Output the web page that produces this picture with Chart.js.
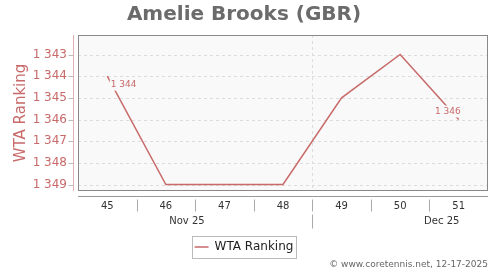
<!DOCTYPE html>
<html>
<head>
<meta charset="utf-8">
<script src="https://cdn.jsdelivr.net/npm/chart.js@4"></script>
<style>
html, body { margin: 0; padding: 0; background: #fff; }
#wrap { width: 500px; height: 270px; }
</style>
</head>
<body>
<div id="wrap"><canvas id="rankChart" width="500" height="270"></canvas></div>
<script>
var weeks = ['45', '46', '47', '48', '49', '50', '51'];
var ranking = [1344, 1349, 1349, 1349, 1345, 1343, 1346];
var rankTicks = [1343, 1344, 1345, 1346, 1347, 1348, 1349];
var months = ['Nov 25', 'Dec 25'];
var monthPos = [1.36, 5.71];
var monthBreak = 3.5;

var red = '#c86a6a';
var plotBg = '#f9f9f9';

function fmt(n) {
	return String(n).replace(/\B(?=(\d{3})+(?!\d))/g, ' ');
}

Chart.defaults.font.family = 'DejaVu Sans';

var framePlugin = {
	id: 'frame',
	beforeDraw: function (chart) {
		var a = chart.chartArea, ctx = chart.ctx;
		ctx.save();
		ctx.fillStyle = plotBg;
		ctx.fillRect(a.left, a.top, a.right - a.left, a.bottom - a.top);
		ctx.restore();
	},
	beforeDatasetsDraw: function (chart) {
		// dashed grid: rank lines + month boundary
		var a = chart.chartArea, ctx = chart.ctx, x = chart.scales.x, y = chart.scales.y;
		ctx.save();
		ctx.strokeStyle = '#dddddd';
		ctx.lineWidth = 1;
		ctx.setLineDash([3, 3]);
		rankTicks.forEach(function (v) {
			var py = Math.round(y.getPixelForValue(v)) + 0.5;
			ctx.beginPath();
			ctx.moveTo(a.left, py);
			ctx.lineTo(a.right, py);
			ctx.stroke();
		});
		var px = Math.round(x.getPixelForValue(monthBreak)) + 0.5;
		ctx.beginPath();
		ctx.moveTo(px, a.top);
		ctx.lineTo(px, a.bottom);
		ctx.stroke();
		ctx.restore();
	},
	afterDatasetsDraw: function (chart) {
		var a = chart.chartArea, ctx = chart.ctx;
		var meta = chart.getDatasetMeta(0);
		ctx.save();
		ctx.font = '9px "DejaVu Sans"';
		// first and last point labels
		var ends = [0, ranking.length - 1];
		ends.forEach(function (i) {
			var p = meta.data[i];
			var txt = fmt(ranking[i]);
			var w = ctx.measureText(txt).width;
			var lx, ly;
			if (i === 0) {
				lx = p.x + 3.5; ly = p.y + 8.5;
			} else {
				lx = p.x + 2 - w; ly = p.y - 8;
			}
			ctx.fillStyle = plotBg;
			ctx.fillRect(lx - 1, ly - 6, w + 2, 12);
			ctx.fillStyle = red;
			ctx.textBaseline = 'middle';
			ctx.textAlign = 'left';
			ctx.fillText(txt, lx, ly);
		});
		ctx.strokeStyle = '#888888';
		ctx.lineWidth = 1;
		ctx.strokeRect(Math.round(a.left) + 0.5, Math.round(a.top) + 0.5,
			Math.round(a.right - a.left) - 1, Math.round(a.bottom - a.top) - 1);
		ctx.restore();
	},
	afterDraw: function (chart) {
		var a = chart.chartArea, ctx = chart.ctx, x = chart.scales.x, y = chart.scales.y;
		ctx.save();
		ctx.lineWidth = 1;
		// y axis line, offset from plot
		var yl = Math.round(a.left) - 5 + 0.5;
		ctx.strokeStyle = '#e0b0b0';
		ctx.beginPath();
		ctx.moveTo(yl, a.top);
		ctx.lineTo(yl, a.bottom);
		ctx.stroke();
		ctx.strokeStyle = '#bbbbbb';
		rankTicks.forEach(function (v) {
			var py = Math.round(y.getPixelForValue(v)) + 0.5;
			ctx.beginPath();
			ctx.moveTo(yl - 5, py);
			ctx.lineTo(yl, py);
			ctx.stroke();
		});
		// x axis line
		var xl = Math.round(a.bottom) + 5 + 0.5;
		ctx.strokeStyle = '#999999';
		ctx.beginPath();
		ctx.moveTo(a.left, xl);
		ctx.lineTo(a.right, xl);
		ctx.stroke();
		ctx.strokeStyle = '#aaaaaa';
		for (var i = 0; i < weeks.length - 1; i++) {
			var px = Math.round(x.getPixelForValue(i + 0.5)) + 0.5;
			ctx.beginPath();
			ctx.moveTo(px, xl + 3);
			ctx.lineTo(px, xl + 15);
			ctx.stroke();
		}
		var mb = Math.round(x.getPixelForValue(monthBreak)) + 0.5;
		ctx.beginPath();
		ctx.moveTo(mb, xl + 18);
		ctx.lineTo(mb, xl + 32);
		ctx.stroke();
		// month labels
		ctx.fillStyle = '#333333';
		ctx.font = '10px "DejaVu Sans"';
		ctx.textAlign = 'center';
		ctx.textBaseline = 'middle';
		months.forEach(function (m, k) {
			ctx.fillText(m, x.getPixelForValue(monthPos[k]), xl + 25);
		});
		// legend frame
		var hb = chart.legend.legendHitBoxes[0];
		if (hb) {
			var cy = hb.top + hb.height / 2;
			ctx.strokeStyle = '#bbbbbb';
			ctx.strokeRect(Math.round(hb.left - 3) + 0.5, Math.round(cy - 11) + 0.5,
				Math.round(hb.width + 5), 22);
		}
		// credit
		ctx.fillStyle = '#666666';
		ctx.font = '9px "DejaVu Sans"';
		ctx.textAlign = 'right';
		ctx.fillText('\u00a9 www.coretennis.net, 12-17-2025', 488, 265);
		ctx.restore();
	}
};

var ctx = document.getElementById('rankChart').getContext('2d');
var rankChart = new Chart(ctx, {
	type: 'line',
	data: {
		labels: weeks,
		datasets: [{
			label: 'WTA Ranking',
			data: ranking,
			borderColor: red,
			backgroundColor: red,
			borderWidth: 1.5,
			pointRadius: 0,
			pointHoverRadius: 0,
			tension: 0,
			fill: false
		}]
	},
	options: {
		responsive: false,
		animation: false,
		layout: { padding: { left: 0, right: 12, top: 0, bottom: 7 } },
		plugins: {
			title: {
				display: true,
				text: 'Amelie Brooks (GBR)',
				color: '#6b6b6b',
				font: { size: 20, weight: 'bold' },
				padding: { top: 3, bottom: 8 }
			},
			legend: {
				position: 'bottom',
				labels: {
					usePointStyle: true,
					pointStyle: 'line',
					pointStyleWidth: 14,
					color: '#222222',
					font: { size: 12 },
					padding: 6
				}
			},
			tooltip: { enabled: false }
		},
		scales: {
			x: {
				offset: true,
				grid: { display: false, drawTicks: false },
				border: { display: false },
				ticks: { color: '#333333', font: { size: 10 }, padding: 9, maxRotation: 0 },
				afterFit: function (s) { s.height = 44; }
			},
			y: {
				reverse: true,
				min: 1342.1,
				max: 1349.3,
				afterBuildTicks: function (s) {
					s.ticks = rankTicks.map(function (v) { return { value: v }; });
				},
				grid: { display: false, drawTicks: false },
				border: { display: false },
				ticks: {
					color: red,
					font: { size: 12 },
					padding: 11,
					callback: function (v) { return fmt(v); }
				},
				title: {
					display: true,
					text: 'WTA Ranking',
					color: red,
					font: { size: 15 },
					padding: { top: 12, bottom: 0 }
				},
				afterFit: function (s) { s.width = 78; }
			}
		}
	},
	plugins: [framePlugin]
});
</script>
</body>
</html>
